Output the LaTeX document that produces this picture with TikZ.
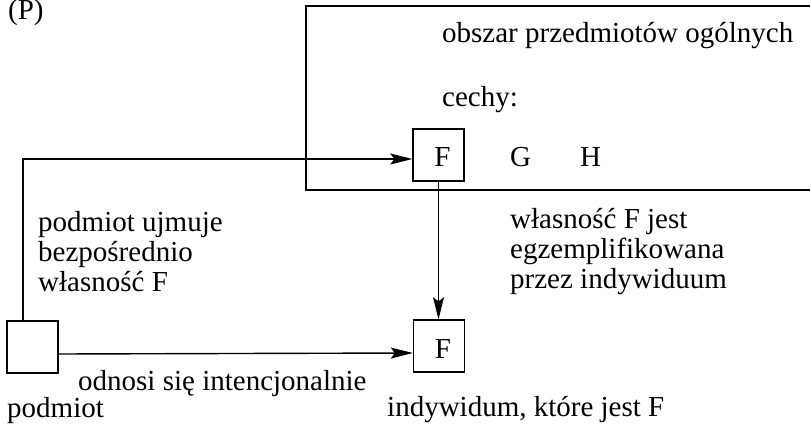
\documentclass[tikz,border=0pt]{standalone}
\usepackage{fontspec}
\setmainfont{Liberation Serif}
\usetikzlibrary{arrows.meta}
\begin{document}
\begin{tikzpicture}[x=1pt,y=-1pt,
  lbl/.style={font=\fontsize{29}{30}\selectfont, inner sep=0pt, anchor=base west, align=left},
  featbox/.style={draw, line width=1.4pt, minimum width=51pt, minimum height=52pt, inner sep=0pt,
                  text height=24pt, text depth=0pt, font=\fontsize{29}{30}\selectfont},
  arr/.style={line width=1.4pt, -{Stealth[length=22pt,width=11pt,inset=4pt]}}]
\useasboundingbox (0,0) rectangle (810,430);

% region of general objects (open to the right)
\draw[line width=1.4pt] (815,6) -- (306,6) -- (306,190) -- (815,190);

% boxes
\node[featbox] (Ftop) at (438.5,155) {\hspace*{8pt}F};
\node[featbox] (Fbot) at (439,346) {\hspace*{8pt}F};
\node[featbox] (pod) at (32.5,347) {};

% texts
\node[lbl] (P) at (8,20) {(P)};
\node[lbl] (obszar) at (442,43) {obszar przedmiotów ogólnych};
\node[lbl] (cechy) at (442,107) {cechy:};
\node[lbl] (G) at (510,167) {G};
\node[lbl] (H) at (580,167) {H};
\node[lbl] (ujmuje) at (38,291) {podmiot ujmuje\\bezpośrednio\\własność F};
\node[lbl] (egz) at (510,288) {własność F jest\\egzemplifikowana\\przez indywiduum};
\node[lbl] (odnosi) at (78,390) {odnosi się intencjonalnie};
\node[lbl] (podmiot) at (7,417) {podmiot};
\node[lbl] (indyw) at (387,416) {indywidum, które jest F};

% connectors
\draw[arr] ([xshift=-9.5pt]pod.north) |- ([yshift=-4pt]Ftop.west);
\draw[arr] ([yshift=-7pt]pod.east) -- ([yshift=-7pt]Fbot.west);
\draw[arr] (Ftop.south) -- (Ftop.south |- Fbot.north);
\end{tikzpicture}
\end{document}
